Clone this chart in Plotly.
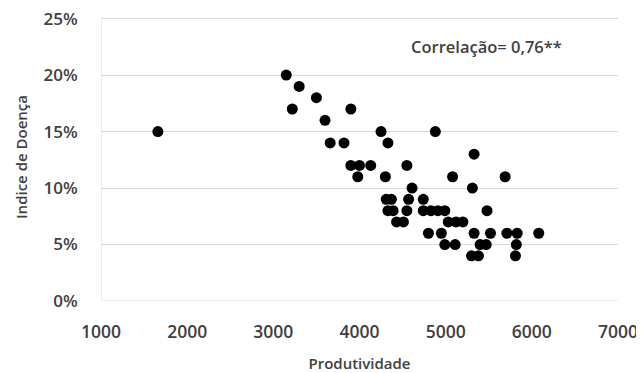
import plotly.graph_objects as go

produtividade = [1660, 3150, 3300, 3500, 3220, 3900, 3600, 4250, 4880, 3660,
                 3820, 4330, 5330, 3900, 4000, 4130, 4550, 3980, 4300, 5080,
                 5690, 4610, 5310, 4310, 4370, 4570, 4740, 4330, 4390, 4550,
                 4740, 4830, 4910, 4990, 5480, 4430, 4510, 5030, 5120, 5200,
                 4800, 4950, 5330, 5520, 5710, 5830, 6080, 4990, 5110, 5400,
                 5470, 5820, 5300, 5380, 5810]
indice_doenca = [15, 20, 19, 18, 17, 17, 16, 15, 15, 14,
                 14, 14, 13, 12, 12, 12, 12, 11, 11, 11,
                 11, 10, 10, 9, 9, 9, 9, 8, 8, 8,
                 8, 8, 8, 8, 8, 7, 7, 7, 7, 7,
                 6, 6, 6, 6, 6, 6, 6, 5, 5, 5,
                 5, 5, 4, 4, 4]

x_ticks = [1000, 2000, 3000, 4000, 5000, 6000, 7000]
y_ticks = [0, 5, 10, 15, 20, 25]
y_tick_labels = ["0%", "5%", "10%", "15%", "20%", "25%"]

FONT = "Open Sans"
TXT = "#404040"

fig = go.Figure()
fig.add_trace(go.Scatter(
    x=produtividade, y=indice_doenca, mode="markers",
    marker=dict(color="black", size=11, line=dict(width=0)),
    showlegend=False, hoverinfo="x+y"))

fig.update_layout(
    width=636, height=365,
    margin=dict(l=93, r=26, t=5, b=72),
    paper_bgcolor="white", plot_bgcolor="white",
    font=dict(family=FONT, color=TXT),
    xaxis=dict(range=[1000, 7000], tickvals=x_ticks, showgrid=False,
               zeroline=False, showline=False, automargin=False,
               ticklabeloverflow="allow",
               tickfont=dict(size=17.5, color=TXT, family=FONT, weight=600),
               ticks="outside", ticklen=15, tickcolor="rgba(0,0,0,0)",
               title=dict(text="Produtividade",
                          font=dict(size=15, color=TXT, weight=600), standoff=19)),
    yaxis=dict(range=[0, 25.5], tickvals=y_ticks, ticktext=y_tick_labels,
               showgrid=True, gridcolor="#d9d9d9", gridwidth=1,
               zeroline=False, showline=False, automargin=False,
               ticklabeloverflow="allow",
               tickfont=dict(size=17, color=TXT, family=FONT, weight=600),
               ticks="outside", ticklen=19, tickcolor="rgba(0,0,0,0)",
               title=dict(text="Indice de Doença",
                          font=dict(size=15, color=TXT, weight=600), standoff=12)),
    annotations=[dict(text="Correlação= 0,76**", xref="paper", yref="y",
                      x=0.745, y=22.5, xanchor="center", yanchor="middle",
                      showarrow=False,
                      font=dict(size=16.5, color=TXT, family=FONT, weight=600))],
)
fig.add_hline(y=0, line=dict(color="#d9d9d9", width=1))
fig.add_shape(type="line", xref="x", yref="y", x0=1000, x1=1000, y0=0, y1=25,
              line=dict(color="#d9d9d9", width=1))

fig.write_html("out.html")
